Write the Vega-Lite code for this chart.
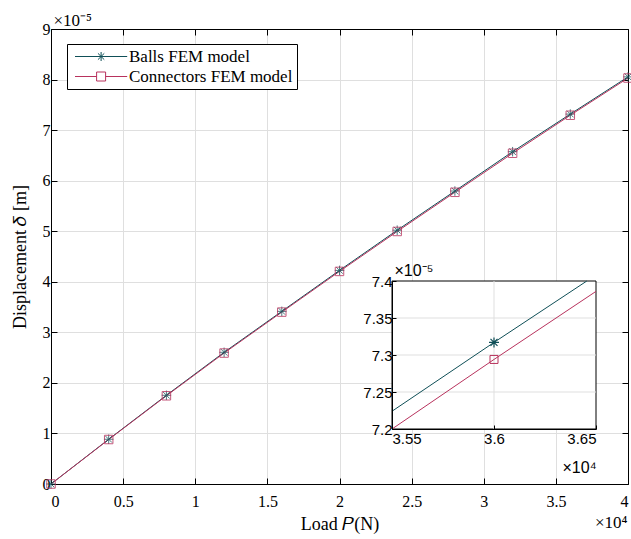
{
  "$schema": "https://vega.github.io/schema/vega-lite/v6.json",
  "width": 577,
  "height": 455,
  "autosize": {"type": "none"},
  "padding": {"left": 51, "top": 29, "right": 3, "bottom": 55},
  "background": "white",
  "config": {
    "view": {"stroke": null},
    "font": "Liberation Serif",
    "axis": {
      "domainColor": "black", "tickColor": "black", "labelColor": "black", "titleColor": "black",
      "gridColor": "#dfdfdf", "labelFont": "Liberation Serif", "labelFontSize": 16,
      "titleFont": "Liberation Serif", "titleFontSize": 18, "titleFontWeight": "normal",
      "domainWidth": 1, "tickWidth": 1
    },
    "legend": {
      "labelFont": "Liberation Serif", "labelFontSize": 17, "labelColor": "black", "labelLimit": 400
    }
  },
  "datasets": {
    "main": [
      {"P": 0, "delta": 0, "model": "Balls FEM model"},
      {"P": 4000, "delta": 8.85e-6, "model": "Balls FEM model"},
      {"P": 8000, "delta": 1.755e-5, "model": "Balls FEM model"},
      {"P": 12000, "delta": 2.605e-5, "model": "Balls FEM model"},
      {"P": 16000, "delta": 3.415e-5, "model": "Balls FEM model"},
      {"P": 20000, "delta": 4.225e-5, "model": "Balls FEM model"},
      {"P": 24000, "delta": 5.02e-5, "model": "Balls FEM model"},
      {"P": 28000, "delta": 5.795e-5, "model": "Balls FEM model"},
      {"P": 32000, "delta": 6.573e-5, "model": "Balls FEM model"},
      {"P": 36000, "delta": 7.317e-5, "model": "Balls FEM model"},
      {"P": 40000, "delta": 8.053e-5, "model": "Balls FEM model"},
      {"P": 0, "delta": 0, "model": "Connectors FEM model"},
      {"P": 4000, "delta": 8.8e-6, "model": "Connectors FEM model"},
      {"P": 8000, "delta": 1.745e-5, "model": "Connectors FEM model"},
      {"P": 12000, "delta": 2.59e-5, "model": "Connectors FEM model"},
      {"P": 16000, "delta": 3.4e-5, "model": "Connectors FEM model"},
      {"P": 20000, "delta": 4.205e-5, "model": "Connectors FEM model"},
      {"P": 24000, "delta": 4.995e-5, "model": "Connectors FEM model"},
      {"P": 28000, "delta": 5.77e-5, "model": "Connectors FEM model"},
      {"P": 32000, "delta": 6.542e-5, "model": "Connectors FEM model"},
      {"P": 36000, "delta": 7.294e-5, "model": "Connectors FEM model"},
      {"P": 40000, "delta": 8.03e-5, "model": "Connectors FEM model"}
    ],
    "inset": [
      {"P": 35500, "delta": 7.224e-5, "model": "Balls FEM model"},
      {"P": 36000, "delta": 7.317e-5, "model": "Balls FEM model"},
      {"P": 36455, "delta": 7.4e-5, "model": "Balls FEM model"},
      {"P": 35500, "delta": 7.2e-5, "model": "Connectors FEM model"},
      {"P": 36000, "delta": 7.294e-5, "model": "Connectors FEM model"},
      {"P": 36500, "delta": 7.386e-5, "model": "Connectors FEM model"}
    ],
    "frame": [{"x1": 35500, "x2": 36500, "y1": 7.2e-5, "y2": 7.4e-5}],
    "igx": [{"v": 36000}],
    "igy": [{"v": 7.25e-5}, {"v": 7.3e-5}, {"v": 7.35e-5}]
  },
  "layer": [
    {
      "layer": [
        {
          "data": {"name": "main"},
          "transform": [{"filter": "datum.model == 'Balls FEM model'"}],
          "mark": {"type": "line", "strokeWidth": 1, "color": "#0f4f57"},
          "encoding": {
            "x": {"field": "P", "type": "quantitative",
              "scale": {"domain": [0, 40000], "nice": false, "zero": false},
              "axis": {"orient": "bottom", "values": [0, 5000, 10000, 15000, 20000, 25000, 30000, 35000, 40000],
                "labelExpr": "format(datum.value/10000,'~g')", "grid": true, "tickSize": -6,
                "labelPadding": 15, "title": "Load 𝑃(N)", "titlePadding": 6}},
            "y": {"field": "delta", "type": "quantitative",
              "scale": {"domain": [0, 9e-5], "nice": false, "zero": false},
              "axis": {"orient": "left", "values": [0, 1e-5, 2e-5, 3e-5, 4e-5, 5e-5, 6e-5, 7e-5, 8e-5, 9e-5],
                "labelExpr": "format(round(datum.value*100000),'d')", "grid": true, "tickSize": -6,
                "labelPadding": 7, "title": "Displacement 𝛿 [m]", "titlePadding": 13}}
          }
        },
        {
          "data": {"name": "main"},
          "transform": [{"filter": "datum.model == 'Connectors FEM model'"}],
          "mark": {"type": "line", "strokeWidth": 1, "color": "#b8325d"},
          "encoding": {
            "x": {"field": "P", "type": "quantitative", "axis": null},
            "y": {"field": "delta", "type": "quantitative", "axis": null}
          }
        },
        {
          "data": {"name": "main"},
          "mark": {"type": "point", "opacity": 0},
          "encoding": {
            "x": {"field": "P", "type": "quantitative",
              "axis": {"orient": "top", "values": [0, 5000, 10000, 15000, 20000, 25000, 30000, 35000, 40000],
                "labels": false, "grid": false, "tickSize": -6,
                "title": "×10⁻⁵", "titleAngle": 0, "titleAlign": "left", "titleBaseline": "middle",
                "titleX": 2, "titleY": -9, "titleFontSize": 17}},
            "y": {"field": "delta", "type": "quantitative",
              "axis": {"orient": "right", "values": [0, 1e-5, 2e-5, 3e-5, 4e-5, 5e-5, 6e-5, 7e-5, 8e-5, 9e-5],
                "labels": false, "grid": false, "tickSize": -6,
                "title": "×10⁴", "titleAngle": 0, "titleAlign": "right", "titleBaseline": "middle",
                "titleX": -1, "titleY": 493, "titleFontSize": 17}}
          }
        },
        {
          "data": {"name": "main"},
          "transform": [{"filter": "datum.model == 'Balls FEM model'"}],
          "mark": {"type": "point", "shape": "M-1,0H1M0,-1V1M-0.7,-0.7L0.7,0.7M-0.7,0.7L0.7,-0.7", "size": 90, "strokeWidth": 1, "filled": false, "opacity": 0.75, "color": "#0f4f57"},
          "encoding": {
            "x": {"field": "P", "type": "quantitative", "axis": null},
            "y": {"field": "delta", "type": "quantitative", "axis": null}
          }
        },
        {
          "data": {"name": "main"},
          "transform": [{"filter": "datum.model == 'Connectors FEM model'"}],
          "mark": {"type": "point", "shape": "square", "size": 72, "strokeWidth": 1, "filled": false, "opacity": 0.8, "color": "#b8325d"},
          "encoding": {
            "x": {"field": "P", "type": "quantitative", "axis": null},
            "y": {"field": "delta", "type": "quantitative", "axis": null}
          }
        },
        {
          "data": {"name": "main"},
          "mark": {"type": "point", "opacity": 0, "size": 81, "strokeWidth": 1, "filled": false},
          "encoding": {
            "x": {"field": "P", "type": "quantitative", "axis": null},
            "y": {"field": "delta", "type": "quantitative", "axis": null},
            "color": {"field": "model", "type": "nominal",
              "scale": {"domain": ["Balls FEM model", "Connectors FEM model"], "range": ["#0f4f57", "#b8325d"]},
              "legend": {"orient": "none", "legendX": 16, "legendY": 15, "title": null,
                "strokeColor": "black", "fillColor": "white", "padding": 4, "rowPadding": 2,
                "symbolOpacity": 1, "symbolStrokeWidth": 1, "labelOffset": 41, "symbolSize": 81, "labelLimit": 400}},
            "shape": {"field": "model", "type": "nominal",
              "scale": {"domain": ["Balls FEM model", "Connectors FEM model"],
                "range": ["M-1,0H10.6M4.8,-1V1M3.8,0H5.8M4.1,-0.7L5.5,0.7M4.1,0.7L5.5,-0.7", "M-1,0H3.8M5.8,0H10.6M3.8,-1H5.8V1H3.8Z"]},
              "legend": {"orient": "none", "legendX": 16, "legendY": 15, "title": null,
                "strokeColor": "black", "fillColor": "white", "padding": 4, "rowPadding": 2,
                "symbolOpacity": 1, "symbolStrokeWidth": 1, "labelOffset": 41, "symbolSize": 81, "labelLimit": 400}}
          }
        }
      ],
      "resolve": {"axis": {"x": "independent", "y": "independent"}}
    },
    {
      "layer": [
        {
          "data": {"name": "frame"},
          "mark": {"type": "rect", "fill": "white", "stroke": "black", "strokeWidth": 1},
          "encoding": {
            "x": {"field": "x1", "type": "quantitative",
              "scale": {"domain": [35500, 36500], "range": [341, 545], "nice": false, "zero": false},
              "axis": {"orient": "bottom", "offset": -55, "values": [35500, 36000, 36500],
                "labelExpr": "format(datum.value/10000,'.2~f')", "grid": false, "tickSize": -4,
                "labelFont": "Liberation Sans", "labelFontSize": 15, "labelPadding": 6, "zindex": 1,
                "title": "×10⁴", "titleFont": "Liberation Sans", "titleFontSize": 16,
                "titleAngle": 0, "titleAlign": "right", "titleBaseline": "middle", "titleX": 545, "titleY": 38}},
            "x2": {"field": "x2"},
            "y": {"field": "y1", "type": "quantitative",
              "scale": {"domain": [7.2e-5, 7.4e-5], "range": [400, 252], "nice": false, "zero": false},
              "axis": {"orient": "left", "offset": -341, "values": [7.2e-5, 7.25e-5, 7.3e-5, 7.35e-5, 7.4e-5],
                "labelExpr": "format(datum.value*100000,'.2~f')", "grid": false, "tickSize": -4,
                "labelFont": "Liberation Sans", "labelFontSize": 15, "labelPadding": 4, "zindex": 1,
                "title": "×10⁻⁵", "titleFont": "Liberation Sans", "titleFontSize": 16,
                "titleAngle": 0, "titleAlign": "left", "titleBaseline": "middle", "titleX": 2, "titleY": 241}},
            "y2": {"field": "y2"}
          }
        },
        {
          "data": {"name": "igx"},
          "mark": {"type": "rule", "color": "#dfdfdf", "strokeWidth": 1},
          "encoding": {
            "x": {"field": "v", "type": "quantitative", "axis": null},
            "y": {"datum": 7.2e-5, "type": "quantitative", "axis": null},
            "y2": {"datum": 7.4e-5}
          }
        },
        {
          "data": {"name": "igy"},
          "mark": {"type": "rule", "color": "#dfdfdf", "strokeWidth": 1},
          "encoding": {
            "y": {"field": "v", "type": "quantitative", "axis": null},
            "x": {"datum": 35500, "type": "quantitative", "axis": null},
            "x2": {"datum": 36500}
          }
        },
        {
          "data": {"name": "inset"},
          "transform": [{"filter": "datum.model == 'Balls FEM model'"}],
          "mark": {"type": "line", "strokeWidth": 1, "color": "#0f4f57"},
          "encoding": {
            "x": {"field": "P", "type": "quantitative", "axis": null},
            "y": {"field": "delta", "type": "quantitative", "axis": null}
          }
        },
        {
          "data": {"name": "inset"},
          "transform": [{"filter": "datum.model == 'Connectors FEM model'"}],
          "mark": {"type": "line", "strokeWidth": 1, "color": "#b8325d"},
          "encoding": {
            "x": {"field": "P", "type": "quantitative", "axis": null},
            "y": {"field": "delta", "type": "quantitative", "axis": null}
          }
        },
        {
          "data": {"name": "main"},
          "transform": [{"filter": "datum.P == 36000 && datum.model == 'Balls FEM model'"}],
          "mark": {"type": "point", "shape": "M-1,0H1M0,-1V1M-0.7,-0.7L0.7,0.7M-0.7,0.7L0.7,-0.7", "size": 100, "strokeWidth": 1.2, "filled": false, "opacity": 1, "color": "#0f4f57"},
          "encoding": {
            "x": {"field": "P", "type": "quantitative", "axis": null},
            "y": {"field": "delta", "type": "quantitative", "axis": null}
          }
        },
        {
          "data": {"name": "main"},
          "transform": [{"filter": "datum.P == 36000 && datum.model == 'Connectors FEM model'"}],
          "mark": {"type": "point", "shape": "square", "size": 64, "strokeWidth": 1, "filled": false, "opacity": 1, "color": "#b8325d"},
          "encoding": {
            "x": {"field": "P", "type": "quantitative", "axis": null},
            "y": {"field": "delta", "type": "quantitative", "axis": null}
          }
        }
      ],
      "resolve": {"axis": {"x": "independent", "y": "independent"}}
    }
  ],
  "resolve": {"scale": {"x": "independent", "y": "independent"}, "axis": {"x": "independent", "y": "independent"}}
}
